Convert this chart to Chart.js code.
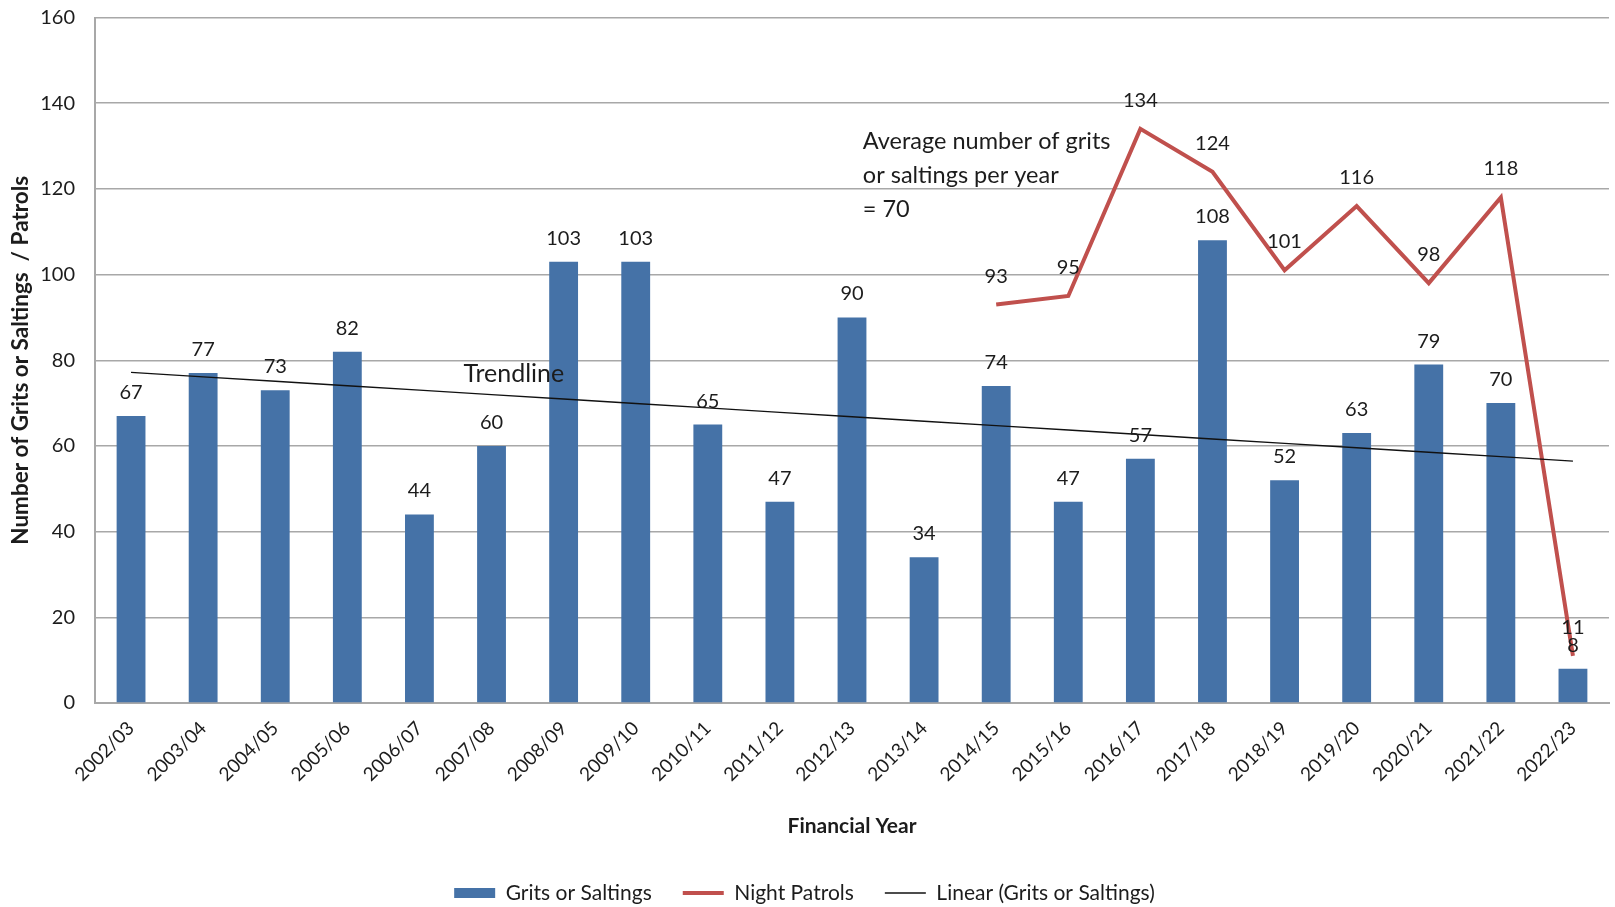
<!DOCTYPE html>
<html>
<head>
<meta charset="utf-8">
<title>Grits or Saltings and Night Patrols by Financial Year</title>
<script src="https://cdn.jsdelivr.net/npm/chart.js@4.4.1/dist/chart.umd.min.js"></script>
<style>
  html, body { margin: 0; padding: 0; background: #ffffff; }
  #wrap { width: 1615px; height: 907px; }
</style>
</head>
<body>
<div id="wrap"><canvas id="chart" width="1615" height="907"></canvas></div>
<script>
// Financial years on the category axis
const years = ['2002/03', '2003/04', '2004/05', '2005/06', '2006/07', '2007/08', '2008/09',
  '2009/10', '2010/11', '2011/12', '2012/13', '2013/14', '2014/15', '2015/16', '2016/17',
  '2017/18', '2018/19', '2019/20', '2020/21', '2021/22', '2022/23'];

// Number of grits or saltings carried out each year
const gritsOrSaltings = [67, 77, 73, 82, 44, 60, 103, 103, 65, 47, 90, 34, 74, 47, 57, 108, 52, 63, 79, 70, 8];

// Night patrols (recorded from 2014/15 onwards)
const nightPatrols = [null, null, null, null, null, null, null, null, null, null, null, null,
  93, 95, 134, 124, 101, 116, 98, 118, 11];

// Value axis ticks
const yTicks = [0, 20, 40, 60, 80, 100, 120, 140, 160];

const annotationLines = ['Average number of grits', 'or saltings per year', '= 70'];

// Least-squares linear trend of the grits/saltings series
function linearTrend(values) {
  const n = values.length;
  let sx = 0, sy = 0, sxy = 0, sxx = 0;
  values.forEach((v, i) => { sx += i; sy += v; sxy += i * v; sxx += i * i; });
  const slope = (n * sxy - sx * sy) / (n * sxx - sx * sx);
  const intercept = (sy - slope * sx) / n;
  return values.map((_, i) => intercept + slope * i);
}

const FONT = 'Lato, "Noto Sans", sans-serif';
const TEXT = '#1c1c1c';
const BLUE = '#4572a7';
const RED = '#c0504d';
const GRID = '#a8a8a8';

const whiteBackground = {
  id: 'whiteBackground',
  beforeDraw(chart) {
    const { ctx } = chart;
    ctx.save();
    ctx.fillStyle = '#ffffff';
    ctx.fillRect(0, 0, chart.width, chart.height);
    ctx.restore();
  }
};

// Value labels above each bar and each night-patrol point
const valueLabels = {
  id: 'valueLabels',
  afterDatasetsDraw(chart) {
    const { ctx } = chart;
    ctx.save();
    ctx.font = '20px ' + FONT;
    ctx.fillStyle = TEXT;
    ctx.textAlign = 'center';
    ctx.textBaseline = 'alphabetic';
    chart.data.datasets.forEach((ds, di) => {
      if (!ds.showValues) return;
      const meta = chart.getDatasetMeta(di);
      meta.data.forEach((el, i) => {
        const v = ds.data[i];
        if (v === null || v === undefined) return;
        ctx.fillText(String(v), el.x, el.y - ds.labelGap);
      });
    });
    ctx.restore();
  }
};

// Free text notes placed against the axes
const notes = {
  id: 'notes',
  afterDatasetsDraw(chart) {
    const { ctx, scales: { x, y } } = chart;
    ctx.save();
    ctx.fillStyle = TEXT;
    ctx.textBaseline = 'middle';
    ctx.textAlign = 'center';
    ctx.font = '25px ' + FONT;
    ctx.fillText('Trendline', x.getPixelForValue(5.31), y.getPixelForValue(76.8));
    ctx.textAlign = 'left';
    ctx.font = '23.5px ' + FONT;
    const left = x.getPixelForValue(10.15);
    const top = y.getPixelForValue(131);
    annotationLines.forEach((line, i) => ctx.fillText(line, left, top + i * 34));
    ctx.restore();
  }
};

const chart = new Chart(document.getElementById('chart'), {
  data: {
    labels: years,
    datasets: [
      {
        type: 'bar',
        label: 'Grits or Saltings',
        data: gritsOrSaltings,
        backgroundColor: BLUE,
        barPercentage: 0.4,
        categoryPercentage: 1.0,
        order: 3,
        showValues: true,
        labelGap: 17
      },
      {
        type: 'line',
        label: 'Night Patrols',
        data: nightPatrols,
        borderColor: RED,
        backgroundColor: RED,
        borderWidth: 4,
        pointRadius: 0,
        tension: 0,
        spanGaps: false,
        order: 2,
        showValues: true,
        labelGap: 22
      },
      {
        type: 'line',
        label: 'Linear (Grits or Saltings)',
        data: linearTrend(gritsOrSaltings),
        borderColor: '#111111',
        backgroundColor: '#111111',
        borderWidth: 1.4,
        pointRadius: 0,
        tension: 0,
        order: 1
      }
    ]
  },
  options: {
    responsive: false,
    animation: false,
    devicePixelRatio: 1,
    layout: { padding: { top: 17.5, right: 6, left: 0, bottom: 0 } },
    plugins: {
      tooltip: { enabled: false },
      legend: {
        position: 'bottom',
        maxHeight: 55.5,
        labels: {
          usePointStyle: true,
          pointStyleWidth: 41,
          boxHeight: 10,
          padding: 31,
          color: TEXT,
          font: { family: FONT, size: 21 },
          sort: (a, b) => a.datasetIndex - b.datasetIndex,
          generateLabels(ch) {
            const items = Chart.defaults.plugins.legend.labels.generateLabels(ch);
            items.forEach(it => {
              const ds = ch.data.datasets[it.datasetIndex];
              if (ds.type === 'line') {
                it.pointStyle = 'line';
                it.strokeStyle = ds.borderColor;
                it.lineWidth = it.datasetIndex === 1 ? 4 : 1.5;
              } else {
                it.pointStyle = 'rect';
                it.fillStyle = ds.backgroundColor;
                it.lineWidth = 0;
              }
            });
            return items;
          }
        }
      }
    },
    scales: {
      x: {
        grid: { display: false, drawTicks: false },
        border: { display: true, color: GRID, width: 2 },
        ticks: {
          minRotation: 45,
          maxRotation: 45,
          autoSkip: false,
          padding: 14,
          color: TEXT,
          font: { family: FONT, size: 19 }
        },
        title: {
          display: true,
          text: 'Financial Year',
          color: TEXT,
          font: { family: FONT, size: 21, weight: 'bold' },
          padding: { top: 0, bottom: 13 }
        },
        afterFit(scale) { scale.height = 148.5; }
      },
      y: {
        min: 0,
        max: 160,
        afterBuildTicks(scale) { scale.ticks = yTicks.map(v => ({ value: v })); },
        grid: { color: GRID, lineWidth: 1.5, drawTicks: false },
        border: { display: true, color: GRID, width: 2 },
        ticks: {
          padding: 20,
          color: TEXT,
          font: { family: FONT, size: 20 }
        },
        title: {
          display: true,
          text: 'Number of Grits or Saltings  / Patrols',
          color: TEXT,
          font: { family: FONT, size: 22.5, weight: 'bold' },
          padding: { top: 7, bottom: 0 }
        },
        afterFit(scale) {
          scale.width = 95;
          scale.paddingTop = 0;
          scale.paddingBottom = 0;
        }
      }
    }
  },
  plugins: [whiteBackground, valueLabels, notes]
});
</script>
</body>
</html>
